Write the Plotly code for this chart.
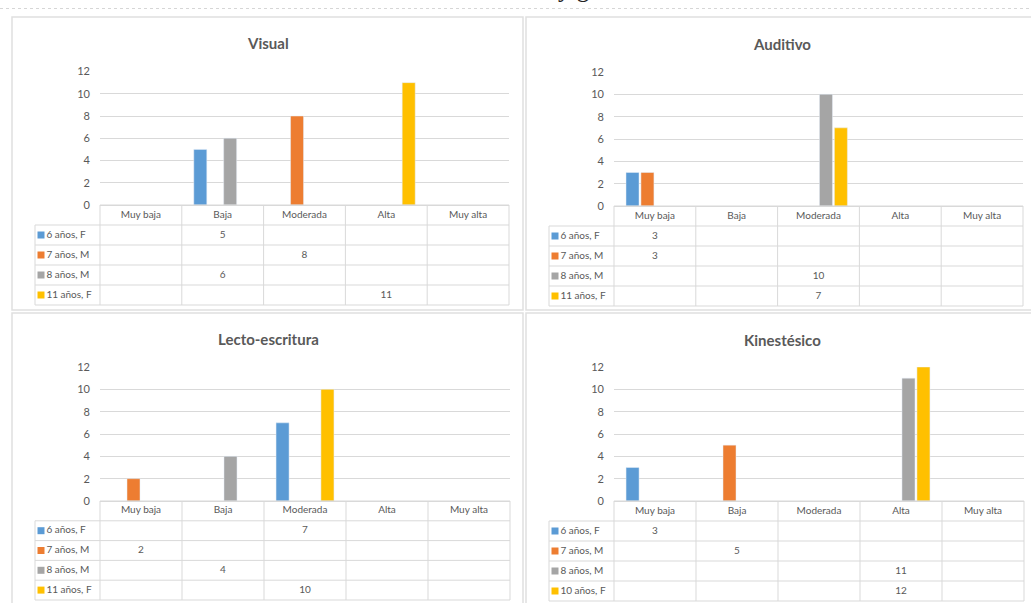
import plotly.graph_objects as go

# ---------------- data ----------------
categories = ["Muy baja", "Baja", "Moderada", "Alta", "Muy alta"]
series_colors = ["#5B9BD5", "#ED7D31", "#A5A5A5", "#FFC000"]

visual_labels = ["6 años, F", "7 años, M", "8 años, M", "11 años, F"]
visual_6F = [None, 5, None, None, None]
visual_7M = [None, None, 8, None, None]
visual_8M = [None, 6, None, None, None]
visual_11F = [None, None, None, 11, None]

auditivo_labels = ["6 años, F", "7 años, M", "8 años, M", "11 años, F"]
auditivo_6F = [3, None, None, None, None]
auditivo_7M = [3, None, None, None, None]
auditivo_8M = [None, None, 10, None, None]
auditivo_11F = [None, None, 7, None, None]

lecto_labels = ["6 años, F", "7 años, M", "8 años, M", "11 años, F"]
lecto_6F = [None, None, 7, None, None]
lecto_7M = [2, None, None, None, None]
lecto_8M = [None, 4, None, None, None]
lecto_11F = [None, None, 10, None, None]

kines_labels = ["6 años, F", "7 años, M", "8 años, M", "10 años, F"]
kines_6F = [3, None, None, None, None]
kines_7M = [None, 5, None, None, None]
kines_8M = [None, None, None, 11, None]
kines_10F = [None, None, None, 12, None]

y_ticks = [0, 2, 4, 6, 8, 10, 12]
caption = "de acuerdo a edad y género"

# ---------------- layout helpers ----------------
W, H = 1031, 603
TXT = "#595959"
GRID = "#D9D9D9"
FONT = "Lato"


def fx(p):
    return min(max(p / W, 0.0), 1.0)


def fy(p):
    return min(max(1 - p / H, 0.0), 1.0)


panels = [
    dict(title="Visual", labels=visual_labels,
         series=[visual_6F, visual_7M, visual_8M, visual_11F],
         x0=100, x1=509, ytop=71.5, ybot=205, tbot=305, lx=35, tx=268, ty=43),
    dict(title="Auditivo", labels=auditivo_labels,
         series=[auditivo_6F, auditivo_7M, auditivo_8M, auditivo_11F],
         x0=614, x1=1023, ytop=72, ybot=206, tbot=306, lx=549, tx=782, ty=44),
    dict(title="Lecto-escritura", labels=lecto_labels,
         series=[lecto_6F, lecto_7M, lecto_8M, lecto_11F],
         x0=100, x1=510, ytop=367, ybot=501, tbot=600, lx=35, tx=268, ty=339),
    dict(title="Kinestésico", labels=kines_labels,
         series=[kines_6F, kines_7M, kines_8M, kines_10F],
         x0=614, x1=1024, ytop=367, ybot=501, tbot=601, lx=549, tx=782, ty=340),
]

fig = go.Figure()
layout = {}
shapes = []
annotations = []

PAD = 3
for i, p in enumerate(panels):
    bi = i + 1          # bar axes index
    ti = i + 5          # table axes index
    bx, by = f"x{bi}", f"y{bi}"
    tx_, ty_ = f"x{ti}", f"y{ti}"

    # ---- bars ----
    for s, (vals, lab, col) in enumerate(zip(p["series"], p["labels"], series_colors)):
        fig.add_trace(go.Bar(x=categories, y=vals, name=lab, marker_color=col,
                             xaxis=bx, yaxis=by, showlegend=False, hoverinfo="skip",
                             offsetgroup=str(s)))

    layout[f"xaxis{bi}"] = dict(domain=[fx(p["x0"]), fx(p["x1"])], type="category",
                                categoryorder="array", categoryarray=categories,
                                range=[-0.5, 4.5], showticklabels=False, showgrid=False,
                                zeroline=False, showline=False, ticks="", automargin=False,
                                anchor=by, fixedrange=True)
    layout[f"yaxis{bi}"] = dict(domain=[fy(p["ybot"]), fy(p["ytop"])], range=[0, 12],
                                tickvals=y_ticks, showgrid=True, gridcolor=GRID, gridwidth=1,
                                zeroline=True, zerolinecolor=GRID, zerolinewidth=1,
                                showline=False, ticks="", ticklabelstandoff=9, automargin=False,
                                tickfont=dict(family=FONT, size=11, color=TXT),
                                anchor=bx, fixedrange=True)

    # ---- table axes (category units horizontally, row units vertically) ----
    unit = (p["x1"] - p["x0"]) / 5.0
    rowh = (p["tbot"] - p["ybot"]) / 5.0
    xl = -0.5 - (p["x0"] - p["lx"]) / unit
    dl = max(p["lx"] - PAD, 0)
    dr = min(p["x1"] + PAD, W)
    dt = max(p["ybot"] - PAD, 0)
    db = min(p["tbot"] + PAD, H)

    def ux(px_, p=p, unit=unit):
        return (px_ - p["x0"]) / unit - 0.5

    def ry(py_, p=p, rowh=rowh):
        return (py_ - p["ybot"]) / rowh

    layout[f"xaxis{ti}"] = dict(domain=[dl / W, dr / W], range=[ux(dl), ux(dr)],
                                visible=False, anchor=ty_, fixedrange=True, automargin=False)
    layout[f"yaxis{ti}"] = dict(domain=[1 - db / H, 1 - dt / H], range=[ry(db), ry(dt)],
                                visible=False, anchor=tx_, fixedrange=True, automargin=False)

    line = dict(color=GRID, width=1)
    # horizontal lines
    shapes.append(dict(type="line", xref=tx_, yref=ty_, x0=-0.5, x1=4.5, y0=0, y1=0, line=line))
    for r in range(1, 6):
        shapes.append(dict(type="line", xref=tx_, yref=ty_, x0=xl, x1=4.5, y0=r, y1=r, line=line))
    # vertical lines
    for k in range(6):
        shapes.append(dict(type="line", xref=tx_, yref=ty_, x0=-0.5 + k, x1=-0.5 + k,
                           y0=0, y1=5, line=line))
    shapes.append(dict(type="line", xref=tx_, yref=ty_, x0=xl, x1=xl, y0=1, y1=5, line=line))

    # header row
    fig.add_trace(go.Scatter(x=list(range(5)), y=[0.5] * 5, text=categories, mode="text",
                             textposition="middle center",
                             textfont=dict(family=FONT, size=10, color=TXT),
                             xaxis=tx_, yaxis=ty_, showlegend=False, hoverinfo="skip",
                             cliponaxis=False))
    # legend column + values
    for s, (vals, lab, col) in enumerate(zip(p["series"], p["labels"], series_colors)):
        r = s + 1.5
        fig.add_trace(go.Scatter(x=[xl + 6 / unit], y=[r], text=[lab], mode="markers+text",
                                 textposition="middle right",
                                 marker=dict(symbol="square", size=7, color=col),
                                 textfont=dict(family=FONT, size=10, color=TXT),
                                 xaxis=tx_, yaxis=ty_, showlegend=False, hoverinfo="skip",
                                 cliponaxis=False))
        xs = [k for k, v in enumerate(vals) if v is not None]
        ts = [str(v) for v in vals if v is not None]
        fig.add_trace(go.Scatter(x=xs, y=[r] * len(xs), text=ts, mode="text",
                                 textposition="middle center",
                                 textfont=dict(family=FONT, size=10, color=TXT),
                                 xaxis=tx_, yaxis=ty_, showlegend=False, hoverinfo="skip",
                                 cliponaxis=False))

    # panel title
    annotations.append(dict(text="<b>" + p["title"] + "</b>", xref="paper", yref="paper",
                            x=fx(p["tx"]), y=fy(p["ty"]), xanchor="center", yanchor="middle",
                            showarrow=False, font=dict(family=FONT, size=15, color=TXT)))

# panel frames
frame = dict(color="#E0E0E0", width=1.5)
for (a, b, c, d) in [(12, 17, 523, 310), (526, 17, 1034, 310), (12, 313, 523, 606), (526, 313, 1034, 606)]:
    shapes.append(dict(type="rect", xref="paper", yref="paper", x0=a / W, x1=c / W,
                       y0=1 - d / H, y1=1 - b / H, line=frame, fillcolor="rgba(0,0,0,0)",
                       layer="below"))
# top separator line
shapes.append(dict(type="line", xref="paper", yref="paper", x0=0, x1=1, y0=fy(8.5), y1=fy(8.5),
                   line=dict(color="#D6D6D6", width=1, dash="dot")))

# cut-off caption at the very top (only its lower edge shows, as in the source)
annotations.append(dict(text=caption, xref="paper", yref="paper", x=fx(508), y=1 + 11.5 / H,
                        xanchor="center", yanchor="middle", showarrow=False,
                        font=dict(family="Liberation Serif", size=25, color="#222222")))

fig.update_layout(**layout)
fig.update_layout(width=W, height=H,
                  margin=dict(l=0, r=0, t=0, b=0, pad=0, autoexpand=False),
                  paper_bgcolor="white", plot_bgcolor="rgba(0,0,0,0)",
                  barmode="group", bargap=0.27, bargroupgap=0.13,
                  shapes=shapes, annotations=annotations, showlegend=False,
                  font=dict(family=FONT, color=TXT))

fig.write_html("out.html", config={"displayModeBar": False, "staticPlot": True},
               post_script="document.body.style.margin='0';document.body.style.overflow='hidden';")
